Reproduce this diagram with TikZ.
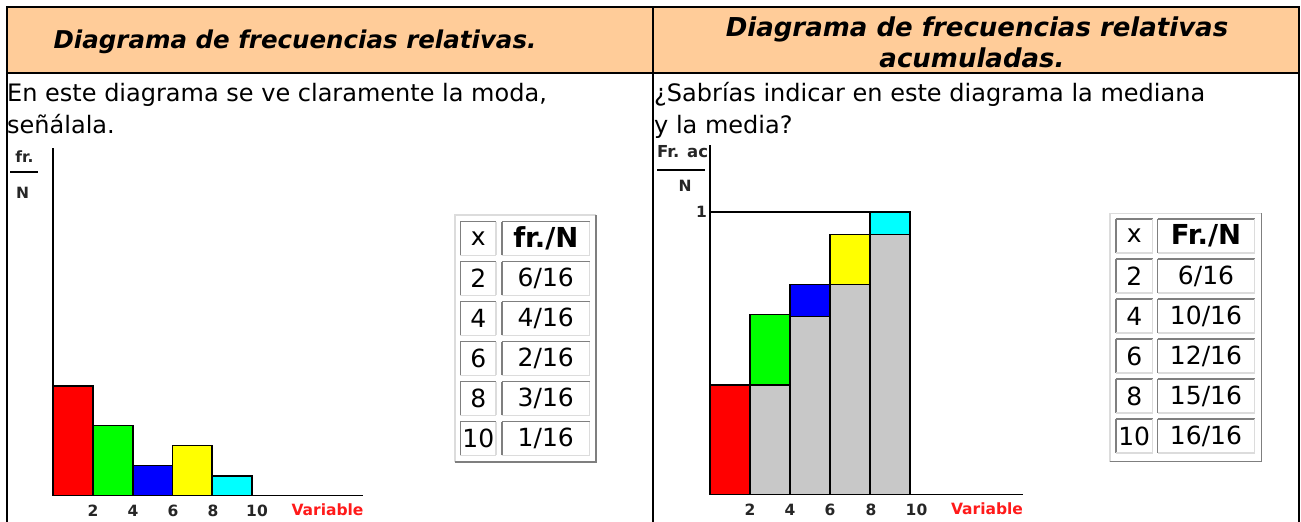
\documentclass[tikz,border=0pt]{standalone}
\usepackage{fontspec}
\setmainfont{DejaVu Sans}
\definecolor{cabecera}{HTML}{FFCC99}
\definecolor{relleno}{HTML}{C8C8C8}
\definecolor{bordeclaro}{HTML}{DCDCDC}
\definecolor{bordeoscuro}{HTML}{7F7F7F}
\definecolor{variable}{HTML}{FF1A1A}
\definecolor{rojo}{HTML}{FF0000}
\definecolor{verde}{HTML}{00FF00}
\definecolor{azul}{HTML}{0000FF}
\definecolor{amarillo}{HTML}{FFFF00}
\definecolor{celeste}{HTML}{00FFFF}
\tikzset{
  barra/.style={draw=black,line width=1.5pt},
  texto/.style={inner sep=0pt,anchor=base west,font=\fontsize{24}{30}\selectfont},
  titulo/.style={inner sep=0pt,anchor=base,font=\fontsize{24.5}{30}\selectfont\bfseries\itshape},
  eje/.style={inner sep=0pt,anchor=base,font=\fontsize{15.5}{18}\selectfont\bfseries,text=black!85},
  celda/.style={inner sep=0pt,minimum height=33.5pt,font=\fontsize{25}{28}\selectfont,
    append after command={
      (\tikzlastnode.south west) edge[draw=bordeoscuro,line width=1.5pt] (\tikzlastnode.north west)
      (\tikzlastnode.north west) edge[draw=bordeoscuro,line width=1.5pt] (\tikzlastnode.north east)
      (\tikzlastnode.north east) edge[draw=bordeclaro,line width=1.5pt] (\tikzlastnode.south east)
      (\tikzlastnode.south east) edge[draw=bordeclaro,line width=1.5pt] (\tikzlastnode.south west)}},
}
\begin{document}
\begin{tikzpicture}[x=1pt,y=-1pt]
\useasboundingbox (0,0) rectangle (1301,522);
\fill[cabecera] (7,7) rectangle (1299,73);
\draw[line width=2pt] (7,522) -- (7,7) -- (1299,7) -- (1299,522);
\draw[line width=2pt] (7,73) -- (1299,73);
\draw[line width=2pt] (652.8,7) -- (652.8,522);
\node[titulo] (tituloA) at (295,48) {Diagrama de frecuencias relativas.};
\node[titulo,font=\fontsize{26}{30}\selectfont\bfseries\itshape] (tituloB) at (977,36) {Diagrama de frecuencias relativas};
\node[titulo,font=\fontsize{26}{30}\selectfont\bfseries\itshape] (tituloBb) at (972,67) {acumuladas.};
\node[texto] (textoA) at (7,101.5) {En este diagrama se ve claramente la moda,};
\node[texto] (textoAb) at (7,133) {señálala.};
\node[texto] (textoB) at (654,101.5) {¿Sabrías indicar en este diagrama la mediana};
\node[texto] (textoBb) at (654,133) {y la media?};
% frecuencias relativas
\node[eje] (frA) at (24.5,162) {fr.};
\draw[line width=1.5pt] (10,172) -- (38,172);
\node[eje] (NA) at (22.5,198) {N};
\draw[line width=1.5pt] (53,148) -- (53,495.7) -- (363,495.7);
\filldraw[barra,fill=rojo] (53,386) rectangle (93,495.7);
\filldraw[barra,fill=verde] (93,425.7) rectangle (133,495.7);
\filldraw[barra,fill=azul] (133,465.7) rectangle (172.5,495.7);
\filldraw[barra,fill=amarillo] (172.5,445.7) rectangle (212,495.7);
\filldraw[barra,fill=celeste] (212,476) rectangle (252,495.7);
\foreach \v/\px in {2/93,4/133,6/173,8/213,10/257}
  \node[eje] (tA\v) at (\px,516) {\v};
\node[eje,font=\fontsize{15.5}{18}\selectfont\bfseries,text=variable] (varA) at (327.5,515) {Variable};
% acumuladas
\node[eje,anchor=base west,font=\fontsize{16.5}{18}\selectfont\bfseries] (frB) at (657,157) {Fr. ac};
\draw[line width=1.5pt] (657,170) -- (705,170);
\node[eje] (NB) at (685,191) {N};
\node[eje] (unoB) at (701.5,217) {1};
\draw[line width=1.5pt] (710,145) -- (710,494.3) -- (1023,494.3);
\draw[line width=1.5pt] (710,212) -- (910,212);
\filldraw[barra,fill=rojo] (710,385) rectangle (750,494.3);
\filldraw[barra,fill=relleno] (750,385) rectangle (790,494.3);
\filldraw[barra,fill=verde] (750,314.3) rectangle (790,385);
\filldraw[barra,fill=relleno] (790,316.7) rectangle (830,494.3);
\filldraw[barra,fill=azul] (790,284.3) rectangle (830,316.7);
\filldraw[barra,fill=relleno] (830,284.3) rectangle (870,494.3);
\filldraw[barra,fill=amarillo] (830,234.3) rectangle (870,284.3);
\filldraw[barra,fill=relleno] (870,234.3) rectangle (910,494.3);
\filldraw[barra,fill=celeste] (870,212) rectangle (910,234.3);
\foreach \v/\px in {2/750,4/790,6/830,8/871,10/916.5}
  \node[eje] (tB\v) at (\px,515) {\v};
\node[eje,font=\fontsize{15.5}{18}\selectfont\bfseries,text=variable] (varB) at (987,514) {Variable};
% tablas
\draw[bordeclaro,line width=1.5pt] (455,462) -- (455,215) -- (596,215);
\draw[bordeoscuro,line width=1.5pt] (596,215) -- (596,462) -- (455,462);
\node[celda,minimum width=35.3pt] (xA0) at (478.3,238.5) {x};
\node[celda,minimum width=87pt,font=\fontsize{27.5}{28}\selectfont\bfseries] (fA0) at (545.8,238.5) {fr./N};
\foreach \i/\v/\f in {1/2/6,2/4/4,3/6/2,4/8/3,5/10/1} {
  \node[celda,minimum width=35.3pt] (xA\i) at (478.3,238.5+40*\i) {\v};
  \node[celda,minimum width=87pt] (fA\i) at (545.8,238.5+40*\i) {\f/16};
}
\draw[bordeclaro,line width=1.5pt] (1110,461.7) -- (1110,213.3) -- (1261.7,213.3);
\draw[bordeoscuro,line width=1.5pt] (1261.7,213.3) -- (1261.7,461.7) -- (1110,461.7);
\node[celda,minimum width=36.3pt] (xB0) at (1134.2,236) {x};
\node[celda,minimum width=96.6pt,font=\fontsize{27.5}{28}\selectfont\bfseries] (fB0) at (1206,236) {Fr./N};
\foreach \i/\v/\f in {1/2/6,2/4/10,3/6/12,4/8/15,5/10/16} {
  \node[celda,minimum width=36.3pt] (xB\i) at (1134.2,236+40*\i) {\v};
  \node[celda,minimum width=96.6pt] (fB\i) at (1206,236+40*\i) {\f/16};
}
\end{tikzpicture}
\end{document}
